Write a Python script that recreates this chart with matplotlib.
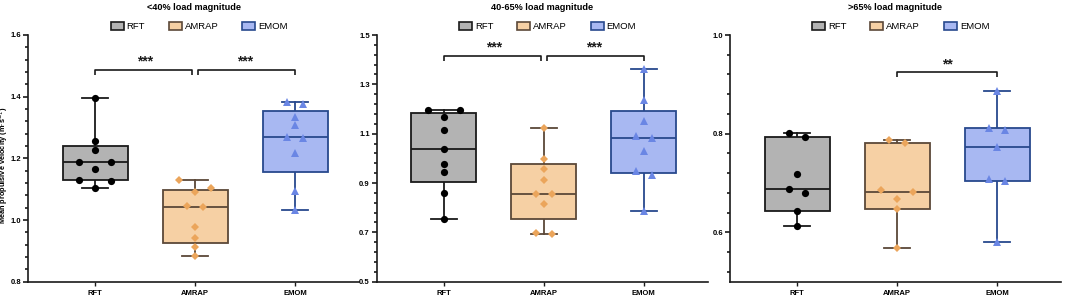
import numpy as np
import matplotlib
matplotlib.use("Agg")
import matplotlib.pyplot as plt
from matplotlib.patches import Patch

plt.rcParams['font.family'] = ['Liberation Sans', 'DejaVu Sans']

# ---------------- data ----------------
groups = ['RFT', 'AMRAP', 'EMOM']
titles = ['<40% load magnitude', '40-65% load magnitude', '>65% load magnitude']
ylabel = 'Mean propulsive velocity (m·s$^{-1}$)'

low_rft = [1.395, 1.256, 1.227, 1.189, 1.189, 1.164, 1.131, 1.128, 1.104]
low_amrap = [1.129, 1.104, 1.090, 1.046, 1.042, 0.979, 0.941, 0.912, 0.884]
low_emom = [1.383, 1.375, 1.335, 1.308, 1.270, 1.267, 1.218, 1.093, 1.031]

mid_rft = [1.196, 1.196, 1.169, 1.115, 1.036, 0.977, 0.944, 0.861, 0.753]
mid_amrap = [1.124, 0.997, 0.955, 0.912, 0.855, 0.855, 0.815, 0.696, 0.692]
mid_emom = [1.362, 1.236, 1.151, 1.091, 1.084, 1.031, 0.950, 0.932, 0.788]

high_rft = [0.801, 0.794, 0.718, 0.687, 0.680, 0.644, 0.613]
high_amrap = [0.787, 0.782, 0.686, 0.682, 0.668, 0.647, 0.568]
high_emom = [0.887, 0.812, 0.807, 0.772, 0.709, 0.705, 0.581]

panel_data = [[low_rft, low_amrap, low_emom],
              [mid_rft, mid_amrap, mid_emom],
              [high_rft, high_amrap, high_emom]]

ylims = [(0.8, 1.6), (0.5, 1.5), (0.5, 1.0)]
major_ticks = [[0.8, 1.0, 1.2, 1.4, 1.6],
               [0.5, 0.7, 0.9, 1.1, 1.3, 1.5],
               [0.6, 0.8, 1.0]]

# significance comparisons: (group a, group b, label)
sig_pairs = [[(0, 1, '***'), (1, 2, '***')],
             [(0, 1, '***'), (1, 2, '***')],
             [(1, 2, '**')]]
sig_levels = [1.486, 1.416, 0.924]

# ---------------- styles ----------------
fills = ['#b3b3b3', '#f6d0a4', '#a8b8f2']
edges = ['#1a1a1a', '#5b4838', '#28498d']
pcolors = ['#000000', '#eba55b', '#6a86e4']
markers = ['o', 'D', '^']
msizes = [5.2, 4.3, 5.6]

W, H = 1065, 297
fig = plt.figure(figsize=(W / 100, H / 100), dpi=100)

ax_left_px = [28.3, 376.7, 730.0]
ax_w_px = 331.0
ax_top_px, ax_bot_px = 35.0, 281.7


def swarm_offsets(vals, px_per_unit, thr=8.0, step=0.16):
    vals = np.asarray(vals)
    order = list(np.argsort(-vals, kind='stable'))
    grps, cur = [], [order[0]]
    for i in order[1:]:
        if (vals[cur[-1]] - vals[i]) * px_per_unit < thr:
            cur.append(i)
        else:
            grps.append(cur)
            cur = [i]
    grps.append(cur)
    offs = np.zeros(len(vals))
    for g in grps:
        n = len(g)
        if n == 2:
            offs[g[0]], offs[g[1]] = -step / 2, step / 2
        elif n == 3:
            offs[g[0]], offs[g[1]], offs[g[2]] = -step, step, 0.0
        elif n > 3:
            for k, idx in enumerate(g):
                offs[idx] = (k - (n - 1) / 2) * step
    return offs


for p in range(3):
    ax = fig.add_axes([ax_left_px[p] / W, 1 - ax_bot_px / H,
                       ax_w_px / W, (ax_bot_px - ax_top_px) / H])
    ax.set_xlim(-0.67, 2.64)
    ax.set_ylim(*ylims[p])
    yr = ylims[p][1] - ylims[p][0]
    px_per_unit = (ax_bot_px - ax_top_px) / yr

    stats = []
    for g in range(3):
        v = np.asarray(panel_data[p][g])
        q1, med, q3 = np.percentile(v, [25, 50, 75], method='weibull')
        stats.append(dict(med=med, q1=q1, q3=q3, whislo=v.min(), whishi=v.max(),
                          fliers=[], label=groups[g]))
    bp = ax.bxp(stats, positions=[0, 1, 2], widths=0.65, capwidths=0.26,
                patch_artist=True, showfliers=False, manage_ticks=False)
    for g in range(3):
        bp['boxes'][g].set(facecolor=fills[g], edgecolor=edges[g], linewidth=1.3, zorder=2)
        bp['medians'][g].set(color=edges[g], linewidth=1.3, zorder=3)
        for w in bp['whiskers'][2 * g:2 * g + 2]:
            w.set(color=edges[g], linewidth=1.3, zorder=1.5)
        for c in bp['caps'][2 * g:2 * g + 2]:
            c.set(color=edges[g], linewidth=1.3, zorder=3)
        vals = panel_data[p][g]
        offs = swarm_offsets(vals, px_per_unit)
        ax.plot(g + offs, vals, linestyle='none', marker=markers[g], markersize=msizes[g],
                color=pcolors[g], markeredgewidth=0, zorder=4)

    # significance brackets
    drop = 5.0 / px_per_unit
    for a, b, lab in sig_pairs[p]:
        xa = a + (0.03 if a == 1 and len(sig_pairs[p]) > 1 else 0)
        xb = b - (0.03 if b == 1 else 0)
        h = sig_levels[p]
        ax.plot([xa, xa, xb, xb], [h - drop, h, h, h - drop], color='#1a1a1a',
                linewidth=1.2, solid_capstyle='butt', zorder=5)
        ax.text((a + b) / 2, h + 1.5 / px_per_unit, lab, ha='center', va='bottom',
                fontsize=10, fontweight='bold', color='#1a1a1a')

    # axes styling
    for s in ['top', 'right']:
        ax.spines[s].set_visible(False)
    for s in ['left', 'bottom']:
        ax.spines[s].set_linewidth(1.2)
        ax.spines[s].set_color('#1a1a1a')
    ax.set_yticks(major_ticks[p])
    ax.set_yticklabels([f'{t:.1f}' for t in major_ticks[p]])
    minors = np.arange(ylims[p][1], ylims[p][0] + 0.01, -0.04)
    minors = [m for m in minors if all(abs(m - t) > 1e-6 for t in major_ticks[p])
              and m > ylims[p][0] + 1e-6]
    ax.set_yticks(minors, minor=True)
    ax.tick_params(axis='y', which='major', length=3.5, width=1.2, labelsize=5.5,
                   pad=1.5, color='#1a1a1a')
    ax.tick_params(axis='y', which='minor', length=2.5, width=1.2, color='#1a1a1a')
    ax.set_xticks([0, 1, 2])
    ax.set_xticklabels(groups)
    ax.tick_params(axis='x', length=3, width=1.0, labelsize=5.5, pad=3, color='#1a1a1a')
    for lbl in ax.get_xticklabels() + ax.get_yticklabels():
        lbl.set_fontweight('bold')

    ax.text(0.5, 1.112, titles[p], transform=ax.transAxes, ha='center', va='center',
            fontsize=6.6, fontweight='bold')

    handles = [Patch(facecolor=fills[g], edgecolor=edges[g], linewidth=1.2, label=groups[g])
               for g in range(3)]
    ax.legend(handles=handles, loc='center', bbox_to_anchor=(0.516, 1.034), ncol=3,
              frameon=False, fontsize=6.8, handlelength=1.38, handleheight=0.85,
              handletextpad=0.32, columnspacing=2.5, borderpad=0, borderaxespad=0)

fig.text(4.6 / W, 1 - 165.0 / H, ylabel, rotation=90, ha='center', va='center',
         fontsize=5.3, fontweight='bold')

fig.savefig('out.png', dpi=100)
